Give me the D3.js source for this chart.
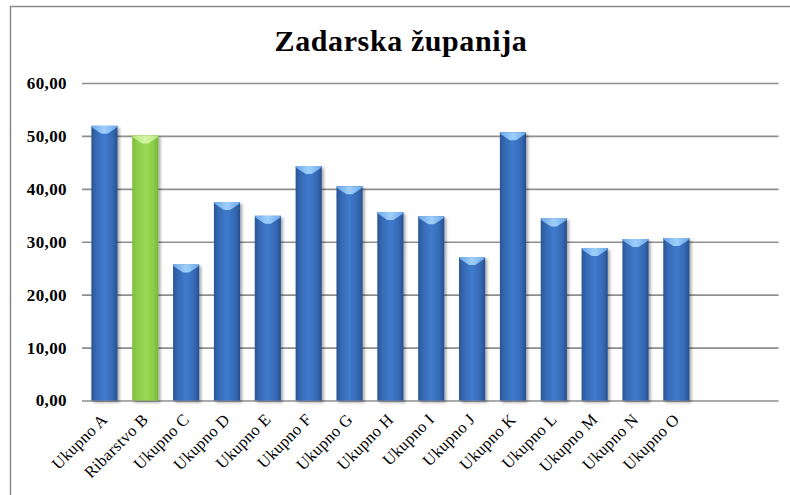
<!DOCTYPE html>
<html>
<head>
<meta charset="utf-8">
<script src="https://cdn.jsdelivr.net/npm/d3@7"></script>
<style>
  html, body { margin: 0; padding: 0; background: #fff; }
  svg { display: block; }
</style>
</head>
<body>
<div id="chart"></div>
<script>
// Chart data
const categories = ["Ukupno A", "Ribarstvo B", "Ukupno C", "Ukupno D", "Ukupno E", "Ukupno F",
  "Ukupno G", "Ukupno H", "Ukupno I", "Ukupno J", "Ukupno K", "Ukupno L", "Ukupno M",
  "Ukupno N", "Ukupno O"];
const values = [51.9, 50.1, 25.7, 37.5, 34.9, 44.3, 40.5, 35.6, 34.8, 27.1, 50.7, 34.4, 28.8, 30.5, 30.7];
const highlighted = ["Ribarstvo B"];
const yTicks = [0, 10, 20, 30, 40, 50, 60];
const slotCount = 17; // the category axis reserves two empty slots after the last bar
const title = "Zadarska županija";

const W = 790, H = 495;
const margin = { left: 84, right: 11.5, top: 83, bottom: 94.5 };
const serif = "Liberation Serif, 'DejaVu Serif', serif";

const svg = d3.select("#chart").append("svg")
  .attr("width", W).attr("height", H);

const defs = svg.append("defs");

function cylGradient(id, stops) {
  const g = defs.append("linearGradient").attr("id", id)
    .attr("x1", "0%").attr("x2", "100%").attr("y1", "0%").attr("y2", "0%");
  stops.forEach(([o, c]) => g.append("stop").attr("offset", o).attr("stop-color", c));
}
cylGradient("blueBody", [["0%", "#2a5596"], ["18%", "#3569b4"], ["50%", "#3f7bcc"], ["82%", "#3569b4"], ["100%", "#264f8e"]]);
cylGradient("greenBody", [["0%", "#7ebd3e"], ["18%", "#8dcc4a"], ["50%", "#9ad857"], ["82%", "#8dcc4a"], ["100%", "#78b63a"]]);
cylGradient("blueCap", [["0%", "#6aa6e8"], ["50%", "#9fd0fb"], ["100%", "#6aa6e8"]]);
cylGradient("greenCap", [["0%", "#b6e77e"], ["50%", "#d4f5a4"], ["100%", "#b6e77e"]]);

const shadow = defs.append("filter").attr("id", "barShadow")
  .attr("x", "-30%").attr("y", "-10%").attr("width", "170%").attr("height", "130%");
shadow.append("feGaussianBlur").attr("in", "SourceAlpha").attr("stdDeviation", 1.8).attr("result", "b");
shadow.append("feOffset").attr("in", "b").attr("dx", 2).attr("dy", 1.5).attr("result", "o");
shadow.append("feComponentTransfer").attr("in", "o").attr("result", "s")
  .append("feFuncA").attr("type", "linear").attr("slope", 0.35);
const merge = shadow.append("feMerge");
merge.append("feMergeNode").attr("in", "s");
merge.append("feMergeNode").attr("in", "SourceGraphic");

// Chart area border (extends past the right and bottom edges)
svg.append("rect")
  .attr("x", 10.5).attr("y", 6.5).attr("width", W).attr("height", H)
  .attr("fill", "#fff").attr("stroke", "#8c8c8c").attr("stroke-width", 1.5);

// Title
svg.append("text")
  .attr("x", 401).attr("y", 51)
  .attr("text-anchor", "middle")
  .attr("font-family", serif)
  .attr("font-weight", "bold").attr("font-size", 30)
  .attr("letter-spacing", 0.6)
  .attr("fill", "#000")
  .text(title);

const slots = d3.range(slotCount);
const x = d3.scaleBand().domain(slots).range([margin.left, W - margin.right]).paddingInner(0.36).paddingOuter(0.18);
const y = d3.scaleLinear().domain([0, 60]).range([H - margin.bottom, margin.top]);

// Gridlines with tick labels
const yAxis = d3.axisLeft(y).tickValues(yTicks)
  .tickSize(-(W - margin.right - margin.left + 2))
  .tickPadding(15)
  .tickFormat(d => d3.format(".2f")(d).replace(".", ","));
const gy = svg.append("g").attr("transform", `translate(${margin.left - 2},0)`).call(yAxis);
gy.select(".domain").remove();
gy.selectAll(".tick line").attr("stroke", "#8e8e8e").attr("stroke-width", 1.6);
gy.selectAll(".tick text")
  .attr("font-family", serif)
  .attr("font-weight", "bold").attr("font-size", 17)
  .attr("letter-spacing", 0.4).attr("fill", "#000");

// Bars
const data = categories.map((c, i) => ({ c, v: values[i], i }));
const bw = x.bandwidth();
const bars = svg.append("g").selectAll("g.bar").data(data).join("g")
  .attr("class", "bar")
  .attr("filter", "url(#barShadow)");

bars.append("rect")
  .attr("x", d => x(d.i))
  .attr("y", d => y(d.v))
  .attr("width", bw)
  .attr("height", d => y(0) - y(d.v))
  .attr("fill", d => highlighted.includes(d.c) ? "url(#greenBody)" : "url(#blueBody)");

// Light bevelled cap on top of each bar
bars.append("path")
  .attr("d", d => {
    const x0 = x(d.i), x1 = x0 + bw, yt = y(d.v), xm = x0 + bw / 2;
    return `M${x0},${yt} L${x1},${yt} L${x1 - 1},${yt + 2} L${xm + 3},${yt + 8} L${xm - 3},${yt + 8} L${x0 + 1},${yt + 2} Z`;
  })
  .attr("fill", d => highlighted.includes(d.c) ? "url(#greenCap)" : "url(#blueCap)");

// Rotated category labels
svg.append("g").selectAll("text").data(data).join("text")
  .attr("transform", d => `translate(${x(d.i) + bw / 2 + 4},${y(0) + 20}) rotate(-45)`)
  .attr("text-anchor", "end")
  .attr("font-family", serif)
  .attr("font-size", 16.5).attr("letter-spacing", 0.3).attr("fill", "#000")
  .text(d => d.c);
</script>
</body>
</html>
